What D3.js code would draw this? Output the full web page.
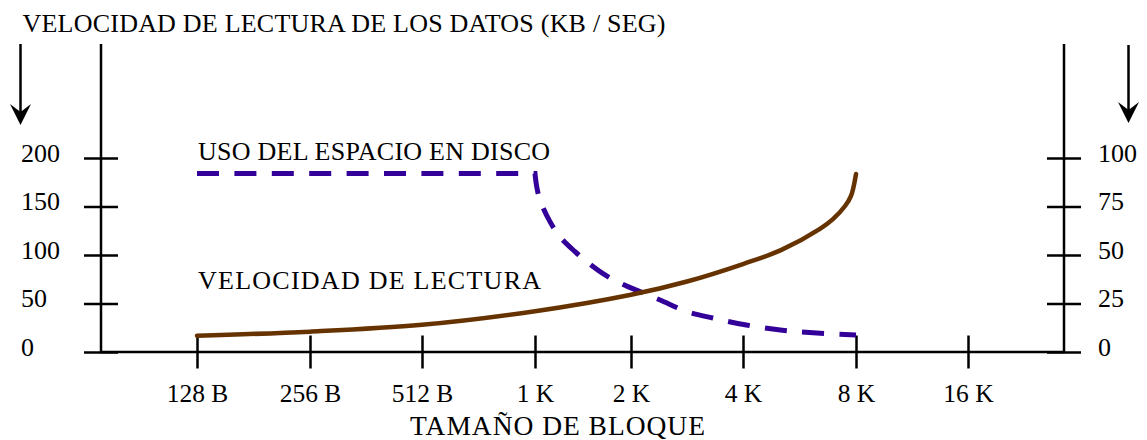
<!DOCTYPE html>
<html>
<head>
<meta charset="utf-8">
<script src="https://cdn.jsdelivr.net/npm/d3@7"></script>
<style>
  html, body { margin: 0; padding: 0; background: #fff; }
  svg { display: block; }
  text { font-family: "Liberation Serif", "Times New Roman", serif; fill: #000; }
</style>
</head>
<body>
<div id="chart"></div>
<script>
// ---------- DATA ----------
const blockLabels = ["128 B", "256 B", "512 B", "1 K", "2 K", "4 K", "8 K", "16 K"];
const blockLog2   = [7, 8, 9, 10, 11, 12, 13, 14];
const leftTicks   = [0, 50, 100, 150, 200];
const rightTicks  = [0, 25, 50, 75, 100];

// Velocidad de lectura (KB/seg, left axis), x as log2(block size)
const speedX = [7.0, 8.0, 9.0, 10.0, 11.0, 11.5, 12.0, 12.336, 12.681, 12.796, 12.903, 12.956, 13.0];
const speedY = [16.8, 21, 28, 42, 59, 72.7, 90.7, 105, 127, 137, 150.5, 161, 183.5];

// Uso del espacio en disco (%, right axis): flat part, then falling part
const spaceFlatX = [7.0, 10.0];
const spaceFlatY = [92, 92];
const spaceDropX = [10.0, 10.018, 10.052, 10.156, 10.26, 10.417, 10.54, 10.73, 10.885, 11.08, 11.26, 11.5, 11.73, 12.03, 12.33, 12.62, 13.0];
const spaceDropY = [92, 85.2, 78.4, 67.2, 59.4, 51.7, 46.5, 39.7, 35.6, 31.1, 26.8, 20.8, 17.5, 13.9, 11.3, 9.9, 8.8];

const titleText = "VELOCIDAD DE LECTURA DE LOS DATOS (KB / SEG)";
const xTitle = "TAMAÑO DE BLOQUE";
const speedLabel = "VELOCIDAD DE LECTURA";
const spaceLabel = "USO DEL ESPACIO EN DISCO";

// ---------- LAYOUT ----------
const W = 1147, H = 440;
const axLeft = 101, axRight = 1064, axTop = 44, axBottom = 352;
const firstTickX = 197;
const tickGaps = [113, 112, 113, 96, 112, 113, 112];
const xRange = [firstTickX];
tickGaps.forEach(g => xRange.push(xRange[xRange.length - 1] + g));

const x = d3.scaleLinear().domain(blockLog2).range(xRange);
const yL = d3.scaleLinear().domain([0, 200]).range([axBottom, 158]);
const yR = d3.scaleLinear().domain([0, 100]).range([axBottom, 158]);

const svg = d3.select("#chart").append("svg")
  .attr("width", W).attr("height", H).attr("viewBox", `0 0 ${W} ${H}`);
svg.append("rect").attr("width", W).attr("height", H).attr("fill", "#fff");

const AX = 2.5;

// Frame
svg.append("path")
  .attr("d", `M${axLeft},${axTop}V${axBottom}H${axRight}V${axTop}`)
  .attr("fill", "none").attr("stroke", "#000").attr("stroke-width", AX);

// Bottom axis
const gx = svg.append("g").attr("transform", `translate(0,${axBottom})`)
  .call(d3.axisBottom(x).tickValues(blockLog2).tickFormat((d, i) => blockLabels[i]).tickSize(16.5).tickPadding(0));
gx.select(".domain").remove();
gx.selectAll(".tick line").attr("y1", -16.5).attr("y2", 16.5).attr("stroke", "#000").attr("stroke-width", AX);
gx.selectAll(".tick text").attr("y", 49.5).attr("dy", 0).attr("font-size", 25.5)
  .attr("font-family", "Liberation Serif");

// Left axis
const gl = svg.append("g").attr("transform", `translate(${axLeft},0)`)
  .call(d3.axisLeft(yL).tickValues(leftTicks).tickSize(17));
gl.select(".domain").remove();
gl.selectAll(".tick line").attr("x1", -17).attr("x2", 17).attr("stroke", "#000").attr("stroke-width", AX);
gl.selectAll(".tick text").attr("x", 21 - axLeft).attr("dy", 3).attr("text-anchor", "start")
  .attr("font-size", 26).attr("font-family", "Liberation Serif");

// Right axis
const gr = svg.append("g").attr("transform", `translate(${axRight},0)`)
  .call(d3.axisRight(yR).tickValues(rightTicks).tickSize(17));
gr.select(".domain").remove();
gr.selectAll(".tick line").attr("x1", -17).attr("x2", 17).attr("stroke", "#000").attr("stroke-width", AX);
gr.selectAll(".tick text").attr("x", 1098 - axRight).attr("dy", 3).attr("text-anchor", "start")
  .attr("font-size", 26).attr("font-family", "Liberation Serif");

// Arrows
function arrow(cx, y0, y1) {
  svg.append("line").attr("x1", cx).attr("x2", cx).attr("y1", y0).attr("y2", y1 - 8)
    .attr("stroke", "#000").attr("stroke-width", AX);
  svg.append("path")
    .attr("d", `M${cx - 10.5},${y1 - 21} L${cx},${y1 - 13} L${cx + 10.5},${y1 - 21} L${cx},${y1} Z`)
    .attr("fill", "#000");
}
arrow(20.5, axTop, 125);
arrow(1128.5, axTop + 1, 123);

// Curves
const speedData = speedX.map((v, i) => [v, speedY[i]]);
const flatData = spaceFlatX.map((v, i) => [v, spaceFlatY[i]]);
const dropData = spaceDropX.map((v, i) => [v, spaceDropY[i]]);

const flatPath = d3.line().x(d => x(d[0])).y(d => yR(d[1])).curve(d3.curveLinear)(flatData);
const dropPath = d3.line().x(d => x(d[0])).y(d => yR(d[1])).curve(d3.curveCatmullRom.alpha(0.5))(dropData);
// join into one continuous path so the dash pattern carries across the corner
const spacePath = flatPath + "L" + dropPath.slice(1);

svg.append("path")
  .attr("d", spacePath)
  .attr("fill", "none").attr("stroke", "#330099").attr("stroke-width", 5)
  .attr("stroke-dasharray", "22,15.4");

svg.append("path")
  .datum(speedData)
  .attr("d", d3.line().x(d => x(d[0])).y(d => yL(d[1])).curve(d3.curveCatmullRom.alpha(0.5)))
  .attr("fill", "none").attr("stroke", "#663300").attr("stroke-width", 4.5)
  .attr("stroke-linecap", "round");

// Texts
svg.append("text").attr("x", 22.5).attr("y", 31.5).attr("font-size", 26)
  .attr("textLength", 643).attr("lengthAdjust", "spacing").text(titleText);
svg.append("text").attr("x", 198).attr("y", 159.5).attr("font-size", 26)
  .attr("textLength", 352).attr("lengthAdjust", "spacing").text(spaceLabel);
svg.append("text").attr("x", 198).attr("y", 288.5).attr("font-size", 26)
  .attr("textLength", 343).attr("lengthAdjust", "spacing").text(speedLabel);
svg.append("text").attr("x", 410).attr("y", 435).attr("font-size", 27.5)
  .attr("textLength", 295).attr("lengthAdjust", "spacing").text(xTitle);
</script>
</body>
</html>
